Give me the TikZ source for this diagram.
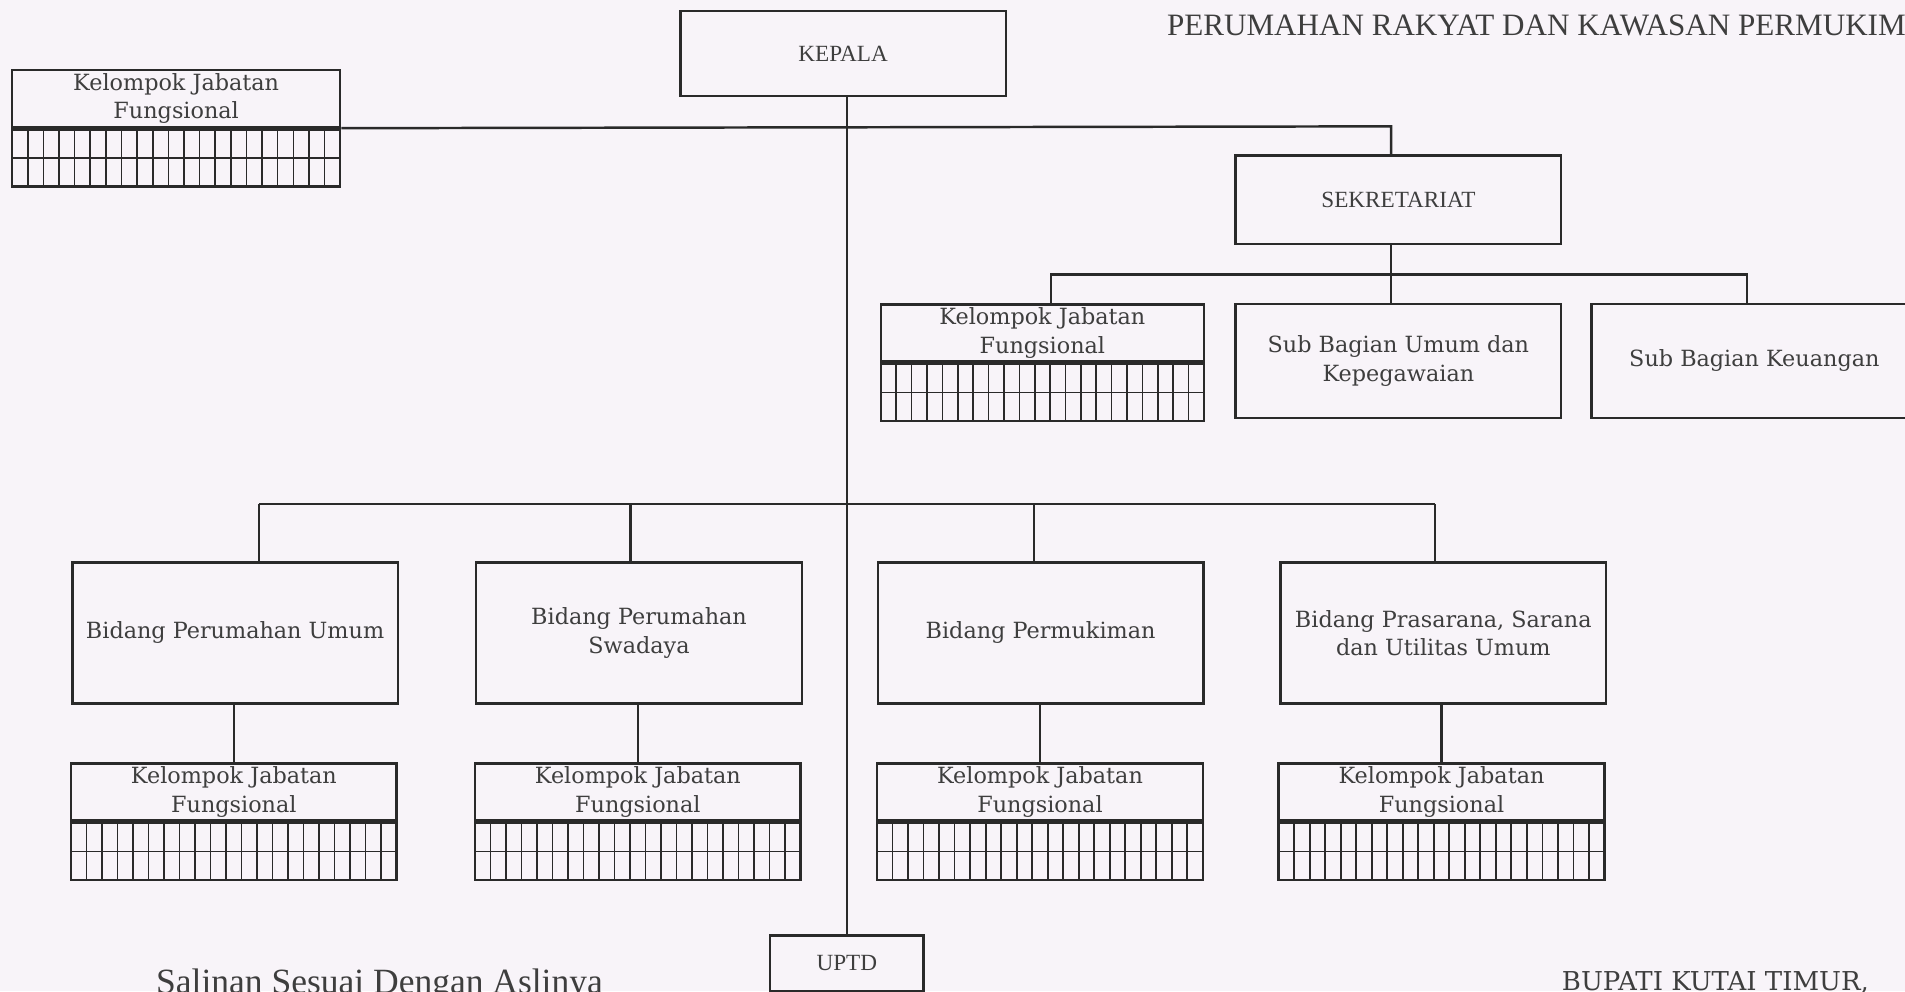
\documentclass[tikz,border=0pt]{standalone}
\usepackage{fontspec}
\setmainfont{DejaVu Serif}
\newfontfamily\judulfont{Liberation Serif}
\usetikzlibrary{calc}
\definecolor{latar}{RGB}{248,244,249}
\definecolor{garis}{RGB}{42,42,42}
\definecolor{tulisan}{RGB}{62,62,62}
\newcommand{\satuan}{0.1215mm}

\begin{document}
\begin{tikzpicture}[x=\satuan,y=-\satuan,
kotak/.style={rectangle,draw=garis,line width=.7pt,text=tulisan,align=center,inner sep=0pt,
  minimum width=268*\satuan,font=\fontsize{6.35}{8.1}\selectfont},
kotakjudul/.style={kotak,font=\judulfont\fontsize{6.6}{8}\selectfont},
kisi/.style={rectangle,draw=garis,line width=.7pt,inner sep=0pt,minimum width=268*\satuan,
  minimum height=47*\satuan,
  path picture={
    \foreach \k in {1,...,20}
      \draw[garis,line width=.45pt]
        ($(path picture bounding box.north west)!\k/21!(path picture bounding box.north east)$)--
        ($(path picture bounding box.south west)!\k/21!(path picture bounding box.south east)$);
    \draw[garis,line width=.45pt] (path picture bounding box.west)--(path picture bounding box.east);
  }}]
\useasboundingbox (0,0) rectangle (1568,816);
\fill[latar] (0,0) rectangle (1568,816);
\clip (0,0) rectangle (1568,816);
\pgfmathsetmacro{\tinggi}{47}
% pimpinan
\node[kotakjudul,minimum height=70*\satuan](kepala) at (694,44){KEPALA};
\node[kotakjudul,minimum height=73*\satuan](sekretariat) at (1151,164.5){SEKRETARIAT};
\node[kotakjudul,minimum width=126*\satuan,minimum height=46*\satuan](uptd) at (697,793){UPTD};
% kelompok jabatan fungsional
\node[kotak,minimum width=270*\satuan,minimum height=\tinggi*\satuan](kjf-0) at (145,81){Kelompok Jabatan\\Fungsional};
\node[kisi,minimum width=270*\satuan,anchor=north](kisi-0) at (kjf-0.south){};
\node[kotak,minimum width=266*\satuan,minimum height=\tinggi*\satuan](kjf-s) at (858,274){Kelompok Jabatan\\Fungsional};
\node[kisi,minimum width=266*\satuan,anchor=north](kisi-s) at (kjf-s.south){};
% sub bagian
\node[kotak,minimum height=94*\satuan](umum) at (1151,297){Sub Bagian Umum dan\\Kepegawaian};
\node[kotak,minimum height=94*\satuan](keuangan) at (1444,297){Sub Bagian Keuangan};
% bidang
\node[kotak,minimum height=116*\satuan](bid-1) at (193.5,521){Bidang Perumahan Umum};
\node[kotak,minimum height=116*\satuan](bid-2) at (526,521){Bidang Perumahan\\Swadaya};
\node[kotak,minimum height=116*\satuan](bid-3) at (856.5,521){Bidang Permukiman};
\node[kotak,minimum height=116*\satuan](bid-4) at (1188,521){Bidang Prasarana, Sarana\\dan Utilitas Umum};
\foreach \i/\x in {1/192.5,2/525,3/856,4/1186.5}{
  \node[kotak,minimum height=\tinggi*\satuan](kjf-\i) at (\x,652){Kelompok Jabatan\\Fungsional};
  \node[kisi,anchor=north](kisi-\i) at (kjf-\i.south){};
}
% titik cabang
\coordinate (s0) at (1145,104);
\coordinate (sk1) at (865,226);
\coordinate (sk2) at (1145,226);
\coordinate (sk3) at (1438,226);
\coordinate (b1) at (213,415);
\coordinate (b2) at (519,415);
\coordinate (b3) at (851,415);
\coordinate (b4) at (1181,415);
\begin{scope}[draw=garis,line width=.7pt]
\draw (uptd.north |- kepala.south)--(uptd.north);
\draw (kjf-0.south east)--(s0)--(s0 |- sekretariat.north);
\draw (s0 |- sekretariat.south)--(sk2)--(sk2 |- umum.north);
\draw (sk1 |- kjf-s.north)--(sk1)--(sk3)--(sk3 |- keuangan.north);
\draw (b1)--(b4);
\foreach \i in {1,...,4}{
  \draw (b\i)--(b\i |- bid-\i.north);
  \draw (kjf-\i.north)--(kjf-\i.north |- bid-\i.south);
}
\end{scope}
% teks lepas
\node[anchor=base west,inner sep=0pt,text=tulisan,font=\judulfont\fontsize{8.85}{11}\selectfont](judul) at (960,29){PERUMAHAN RAKYAT DAN KAWASAN PERMUKIMAN};
\node[anchor=base west,inner sep=0pt,text=tulisan,font=\judulfont\fontsize{10.1}{12}\selectfont](salinan) at (128,818){Salinan Sesuai Dengan Aslinya};
\node[anchor=base west,inner sep=0pt,text=tulisan,font=\fontsize{7.4}{9}\selectfont](bupati) at (1285,815){BUPATI KUTAI TIMUR,};
\end{tikzpicture}
\end{document}
